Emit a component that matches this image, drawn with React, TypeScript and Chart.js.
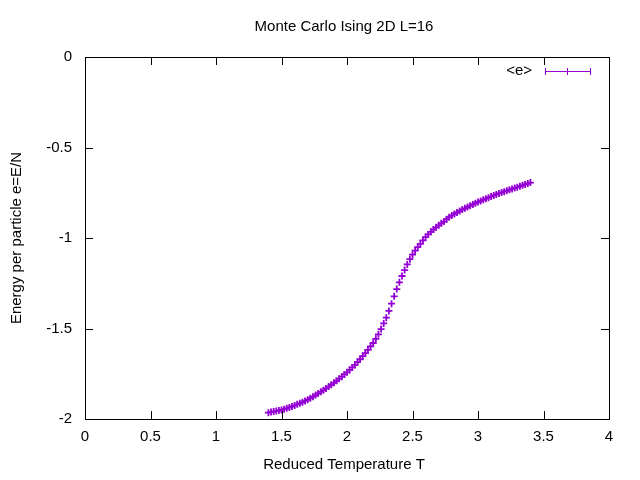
import React, { useEffect, useRef } from "react";
import { Chart, registerables } from "chart.js";
Chart.register(...registerables);

const temps = [1.40,1.42,1.44,1.46,1.48,1.50,1.52,1.54,1.56,1.58,1.60,1.62,1.64,1.66,1.68,1.70,1.72,1.74,1.76,1.78,1.80,1.82,1.84,1.86,1.88,1.90,1.92,1.94,1.96,1.98,2.00,2.02,2.04,2.06,2.08,2.10,2.12,2.14,2.16,2.18,2.20,2.22,2.24,2.26,2.28,2.30,2.32,2.34,2.36,2.38,2.40,2.42,2.44,2.46,2.48,2.50,2.52,2.54,2.56,2.58,2.60,2.62,2.64,2.66,2.68,2.70,2.72,2.74,2.76,2.78,2.80,2.82,2.84,2.86,2.88,2.90,2.92,2.94,2.96,2.98,3.00,3.02,3.04,3.06,3.08,3.10,3.12,3.14,3.16,3.18,3.20,3.22,3.24,3.26,3.28,3.30,3.32,3.34,3.36,3.38,3.40];
const energy = [-1.965,-1.962,-1.959,-1.956,-1.953,-1.950,-1.946,-1.941,-1.936,-1.931,-1.925,-1.919,-1.913,-1.907,-1.900,-1.893,-1.885,-1.877,-1.868,-1.859,-1.850,-1.841,-1.831,-1.821,-1.811,-1.800,-1.789,-1.778,-1.766,-1.754,-1.742,-1.729,-1.715,-1.701,-1.686,-1.670,-1.653,-1.636,-1.618,-1.599,-1.580,-1.557,-1.532,-1.503,-1.472,-1.440,-1.403,-1.363,-1.322,-1.282,-1.245,-1.210,-1.177,-1.146,-1.117,-1.092,-1.070,-1.050,-1.032,-1.013,-0.995,-0.980,-0.966,-0.953,-0.941,-0.930,-0.919,-0.909,-0.896,-0.885,-0.875,-0.867,-0.859,-0.851,-0.843,-0.836,-0.829,-0.822,-0.815,-0.808,-0.801,-0.795,-0.789,-0.783,-0.777,-0.771,-0.765,-0.759,-0.754,-0.749,-0.744,-0.739,-0.734,-0.729,-0.724,-0.719,-0.714,-0.709,-0.704,-0.699,-0.694];
const xTicks = [0, 0.5, 1, 1.5, 2, 2.5, 3, 3.5, 4];
const yTicks = [0, -0.5, -1, -1.5, -2];
const COLOR = "#9400d3";
const FONT = "'Liberation Sans', Arial, sans-serif";

const gnuplot = {
  id: "gnuplot",
  afterDraw(chart: any) {
    const { ctx, chartArea: a, scales } = chart;
    const xs = scales.x, ys = scales.y;
    ctx.save();
    ctx.strokeStyle = "#000";
    ctx.lineWidth = 1;
    ctx.strokeRect(a.left + 0.5, a.top + 0.5, a.right - a.left, a.bottom - a.top);
    ctx.beginPath();
    for (const t of xTicks) {
      const px = Math.round(xs.getPixelForValue(t)) + 0.5;
      ctx.moveTo(px, a.bottom); ctx.lineTo(px, a.bottom - 8);
      ctx.moveTo(px, a.top); ctx.lineTo(px, a.top + 8);
    }
    for (const t of yTicks) {
      const py = Math.round(ys.getPixelForValue(t)) + 0.5;
      ctx.moveTo(a.left, py); ctx.lineTo(a.left + 8, py);
      ctx.moveTo(a.right, py); ctx.lineTo(a.right - 8, py);
    }
    ctx.stroke();
    ctx.fillStyle = "#000";
    ctx.font = `15px ${FONT}`;
    ctx.textBaseline = "middle";
    ctx.textAlign = "center";
    for (const t of xTicks) ctx.fillText(String(t), xs.getPixelForValue(t), a.bottom + 18);
    ctx.textAlign = "right";
    for (const t of yTicks) ctx.fillText(String(t), a.left - 13, ys.getPixelForValue(t));
    ctx.textAlign = "center";
    ctx.fillText("Monte Carlo Ising 2D L=16", 344, 27);
    ctx.fillText("Reduced Temperature T", 344, 465);
    ctx.save();
    ctx.translate(17, 238);
    ctx.rotate(-Math.PI / 2);
    ctx.fillText("Energy per particle e=E/N", 0, 0);
    ctx.restore();
    ctx.textAlign = "right";
    ctx.fillText("<e>", 532, 71);
    ctx.strokeStyle = COLOR;
    ctx.beginPath();
    ctx.moveTo(545, 71.5); ctx.lineTo(590, 71.5);
    ctx.moveTo(545.5, 68); ctx.lineTo(545.5, 75);
    ctx.moveTo(590.5, 68); ctx.lineTo(590.5, 75);
    ctx.moveTo(567.5, 68); ctx.lineTo(567.5, 75);
    ctx.stroke();
    ctx.restore();
  },
};

export default function App() {
  const ref = useRef<HTMLCanvasElement>(null);
  useEffect(() => {
    const chart = new Chart(ref.current!, {
      type: "scatter",
      data: {
        datasets: [{
          label: "<e>",
          data: temps.map((t, i) => ({ x: t, y: energy[i] })),
          pointStyle: "cross",
          pointRadius: 3.5,
          borderColor: COLOR,
          backgroundColor: COLOR,
          borderWidth: 1.8,
          showLine: false,
        }],
      },
      options: {
        animation: false,
        responsive: false,
        layout: { padding: { top: 57, right: 31, left: 0, bottom: 0 } },
        plugins: { legend: { display: false }, title: { display: false }, tooltip: { enabled: false } },
        scales: {
          x: {
            type: "linear", min: 0, max: 4,
            grid: { display: false }, border: { display: false },
            ticks: { display: false },
            afterFit: (s: any) => { s.height = 61; },
          },
          y: {
            type: "linear", min: -2, max: 0,
            grid: { display: false }, border: { display: false },
            ticks: { display: false },
            afterFit: (s: any) => { s.width = 85; },
          },
        },
      },
      plugins: [gnuplot],
    });
    return () => chart.destroy();
  }, []);
  return (
    <div style={{ position: "fixed", left: 0, top: 0, width: 640, height: 480, background: "#fff" }}>
      <canvas ref={ref} width={640} height={480} style={{ width: 640, height: 480 }} />
    </div>
  );
}
